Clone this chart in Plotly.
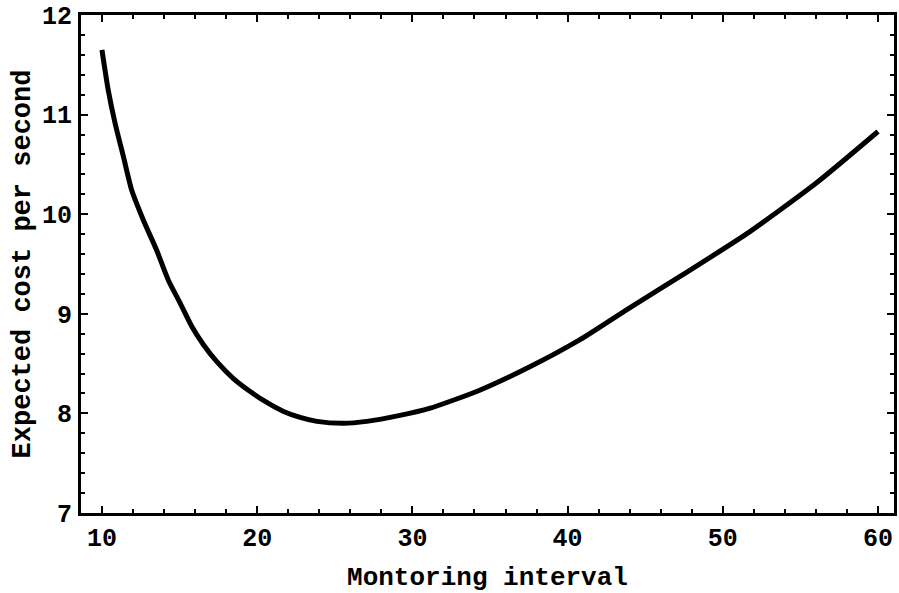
import plotly.graph_objects as go

interval = [10, 10.4, 10.85, 11.38, 11.92, 12.67, 13.52, 14.27, 15.03, 15.8, 16.54, 17.4, 18.47,
            19.55, 20.62, 21.7, 22.77, 23.85, 25.56, 27.06, 29.2, 31.1, 34.3, 37.6, 40.8,
            44.0, 47.4, 51.7, 56.0, 60]
cost = [11.65, 11.25, 10.91, 10.58, 10.24, 9.94, 9.64, 9.34, 9.11, 8.87, 8.69, 8.52, 8.35,
        8.22, 8.11, 8.02, 7.96, 7.92, 7.90, 7.92, 7.98, 8.05, 8.23, 8.47, 8.74,
        9.06, 9.39, 9.82, 10.31, 10.83]

x_ticks = [10, 20, 30, 40, 50, 60]
y_ticks = [7, 8, 9, 10, 11, 12]

FONT = "Liberation Mono, Courier New, monospace"

fig = go.Figure()
fig.add_trace(go.Scatter(
    x=interval, y=cost, mode="lines",
    line=dict(color="black", width=5, shape="spline", smoothing=0.6),
    showlegend=False, hoverinfo="skip",
))

axis_common = dict(
    showline=True, linecolor="black", linewidth=3, mirror="allticks",
    ticks="inside", ticklen=7, tickwidth=2, tickcolor="black",
    showgrid=False, zeroline=False, automargin=False,
    tickfont=dict(family=FONT, size=25, color="black", weight="bold"),
)

fig.update_layout(
    width=899, height=593,
    margin=dict(l=81, r=5, t=15, b=80),
    paper_bgcolor="white", plot_bgcolor="white",
    xaxis=dict(
        range=[8.65, 61.03], tickvals=x_ticks, ticklabelstandoff=0,
        minor=dict(dtick=2, tick0=0, ticks="inside", ticklen=4, tickwidth=2, tickcolor="black"),
        title=dict(text="Montoring interval", font=dict(family=FONT, size=26, color="black", weight="bold"), standoff=20),
        **axis_common,
    ),
    yaxis=dict(
        range=[7, 12], tickvals=y_ticks, ticklabelstandoff=1,
        minor=dict(dtick=0.2, tick0=0, ticks="inside", ticklen=4, tickwidth=2, tickcolor="black"),
        title=dict(text="Expected cost per second", font=dict(family=FONT, size=27, color="black", weight="bold"), standoff=4),
        **axis_common,
    ),
)

fig.write_html("out.html")
